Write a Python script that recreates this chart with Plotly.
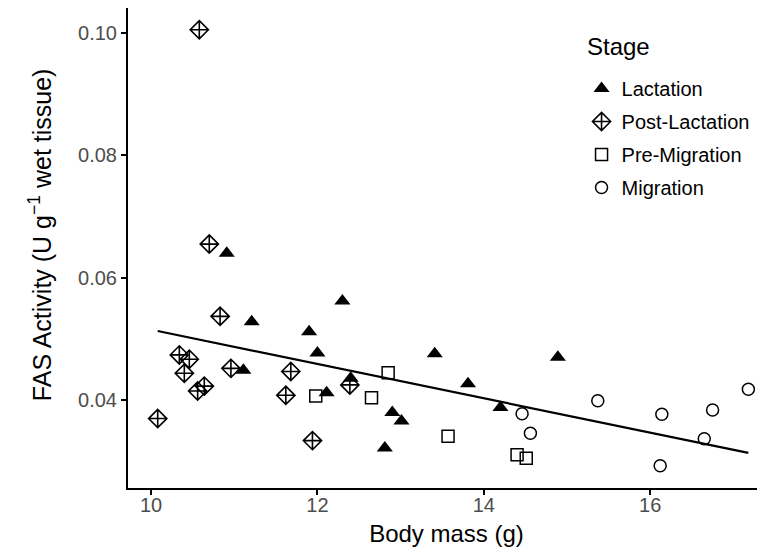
import plotly.graph_objects as go

# Lactation
lact_x = [10.91, 11.21, 11.11, 12.30, 11.90, 12.00, 12.11, 12.40, 12.90, 13.01, 12.81, 13.41, 13.81, 14.20, 14.89]
lact_y = [0.0640, 0.0528, 0.0449, 0.0562, 0.0512, 0.0477, 0.0412, 0.0436, 0.0380, 0.0366, 0.0322, 0.0476, 0.0427, 0.0388, 0.0470]
# Post-Lactation
post_x = [10.58, 10.70, 10.83, 10.34, 10.46, 10.40, 10.96, 10.56, 10.64, 10.08, 11.68, 11.62, 12.39, 11.94]
post_y = [0.1005, 0.0655, 0.0537, 0.0474, 0.0467, 0.0444, 0.0452, 0.0415, 0.0423, 0.0370, 0.0447, 0.0408, 0.0425, 0.0334]
# Pre-Migration
pre_x = [11.98, 12.65, 12.85, 13.57, 14.40, 14.51]
pre_y = [0.0407, 0.0404, 0.0445, 0.0341, 0.0311, 0.0305]
# Migration
mig_x = [14.46, 14.56, 15.37, 16.14, 16.75, 16.65, 17.18, 16.12]
mig_y = [0.0378, 0.0346, 0.0399, 0.0377, 0.0384, 0.0337, 0.0418, 0.0293]
# fitted line
fit_x = [10.08, 17.18]
fit_y = [0.0513, 0.0314]

x_ticks = [10, 12, 14, 16]
y_ticks = [0.04, 0.06, 0.08, 0.10]

FONT = "Liberation Sans, Arial, Helvetica, sans-serif"

fig = go.Figure()
fig.add_trace(go.Scatter(x=fit_x, y=fit_y, mode="lines",
                         line=dict(color="black", width=2.2), showlegend=False, hoverinfo="skip"))
fig.add_trace(go.Scatter(x=lact_x, y=lact_y, mode="markers", name="Lactation", legendgroup="a",
                         marker=dict(symbol="triangle-up", size=14, color="black", line=dict(width=0))))
fig.add_trace(go.Scatter(x=post_x, y=post_y, mode="markers", name="Post-Lactation", legendgroup="b",
                         marker=dict(symbol="diamond-cross-open", size=14, color="black", line=dict(width=1.6))))
fig.add_trace(go.Scatter(x=pre_x, y=pre_y, mode="markers", name="Pre-Migration", legendgroup="c",
                         marker=dict(symbol="square-open", size=12, color="black", line=dict(width=1.5))))
fig.add_trace(go.Scatter(x=mig_x, y=mig_y, mode="markers", name="Migration", legendgroup="d",
                         marker=dict(symbol="circle-open", size=12, color="black", line=dict(width=1.5))))

fig.add_annotation(text="Stage", xref="paper", yref="paper", x=0.717, y=0.919,
                   xanchor="left", yanchor="middle", showarrow=False,
                   font=dict(size=24, color="black", family=FONT))
fig.add_annotation(text="FAS Activity (U g<sup>\u22121</sup> wet tissue)", xref="paper", yref="paper",
                   x=-0.138, y=0.527, xanchor="center", yanchor="middle", textangle=-90,
                   showarrow=False, font=dict(size=25, color="black", family=FONT))

fig.update_layout(
    width=757, height=551,
    margin=dict(l=120, r=0, t=0, b=71),
    plot_bgcolor="white", paper_bgcolor="white",
    font=dict(family=FONT, color="black"),
    legend=dict(
        x=0.712, y=0.873, xanchor="left", yanchor="top",
        font=dict(size=20, color="black"),
        traceorder="grouped", tracegroupgap=4,
        bgcolor="rgba(0,0,0,0)", itemwidth=30,
    ),
    xaxis=dict(
        range=[9.723, 17.38], tickvals=x_ticks, ticktext=[str(v) for v in x_ticks],
        showgrid=False, zeroline=False, showline=True, linecolor="black", linewidth=2,
        ticks="outside", ticklen=5, tickwidth=1.5, tickcolor="black",
        tickfont=dict(size=20, color="#4d4d4d"), ticklabelstandoff=-7,
        title=dict(text="Body mass (g)", font=dict(size=24, color="black"), standoff=10),
    ),
    yaxis=dict(
        range=[0.02566, 0.10406], tickvals=y_ticks, ticktext=["%.2f" % v for v in y_ticks],
        showgrid=False, zeroline=False, showline=True, linecolor="black", linewidth=2,
        ticks="outside", ticklen=5, tickwidth=1.5, tickcolor="black",
        tickfont=dict(size=20, color="#4d4d4d"),
    ),
)

fig.write_html("out.html")
